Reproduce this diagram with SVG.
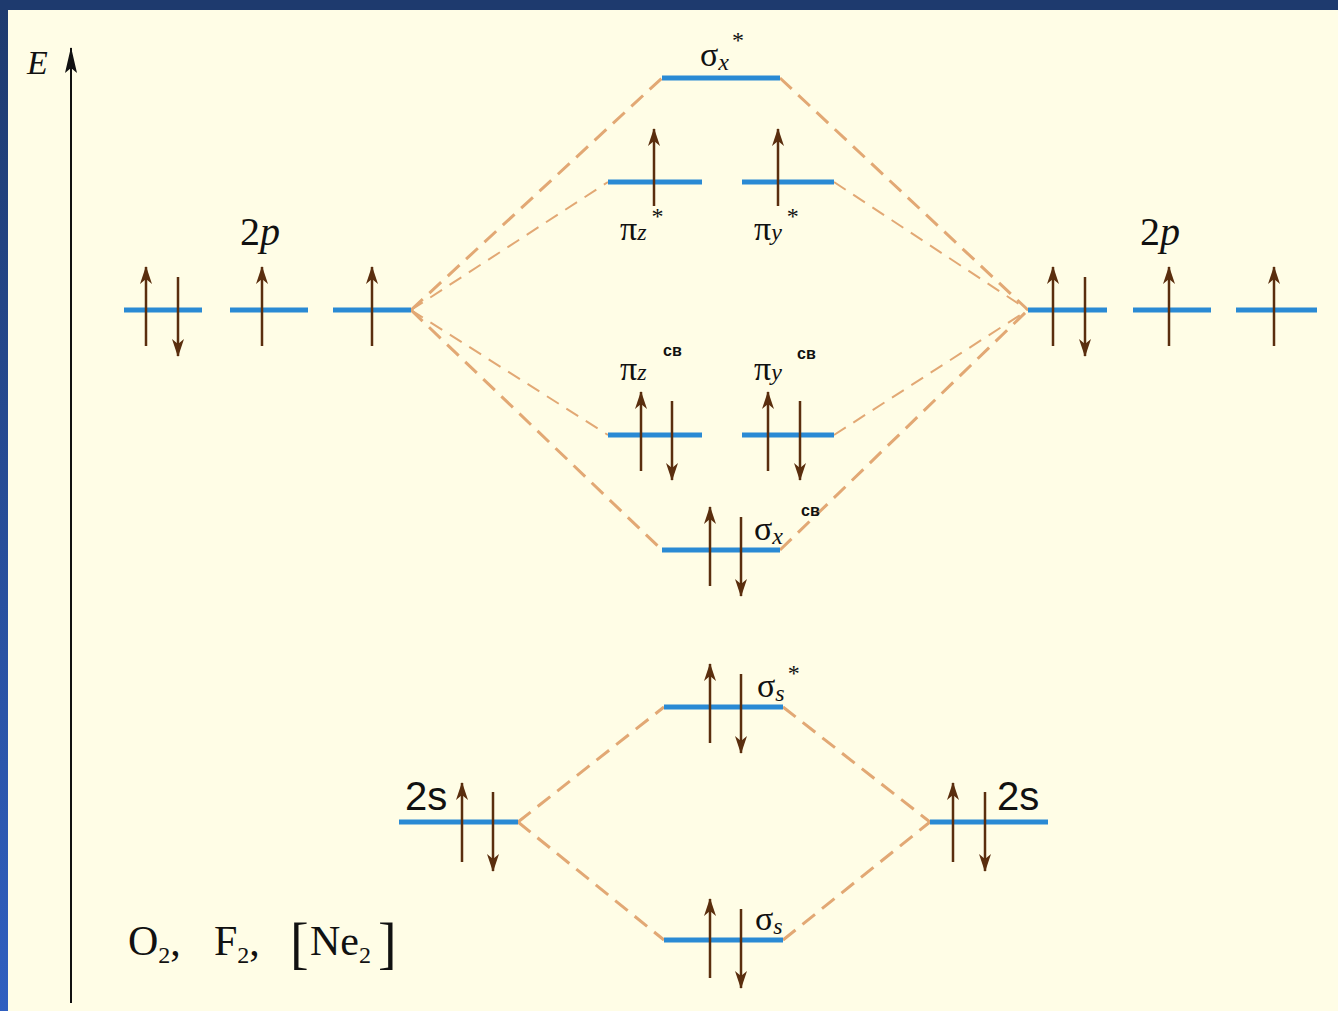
<svg xmlns="http://www.w3.org/2000/svg" width="1338" height="1011" viewBox="0 0 1338 1011">
<defs>
<linearGradient id="side" x1="0" y1="0" x2="0" y2="1">
<stop offset="0" stop-color="#1e3a6e"/>
<stop offset="1" stop-color="#2f5fc0"/>
</linearGradient>
<marker id="ah" viewBox="0 0 18 12" refX="17" refY="6" markerWidth="18" markerHeight="12" markerUnits="userSpaceOnUse" orient="auto-start-reverse">
<path d="M18,6 L0,0 L5,6 L0,12 Z" fill="#5a2e0e"/>
</marker>
<marker id="ax" viewBox="0 0 26 12" refX="25" refY="6" markerWidth="26" markerHeight="12" markerUnits="userSpaceOnUse" orient="auto-start-reverse">
<path d="M26,6 L0,0 L5,6 L0,12 Z" fill="#111"/>
</marker>
</defs>
<style>
.lv{stroke:#2a8ad4;stroke-width:5;fill:none}
.ar{stroke:#5a2e0e;stroke-width:2.5;fill:none}
.up{marker-start:url(#ah)}
.dn{marker-end:url(#ah)}
.dash{stroke:#e2a874;stroke-width:3;stroke-dasharray:16 9;fill:none}
.thin{stroke:#e2a874;stroke-width:2;stroke-dasharray:14 9;fill:none}
.t{font-family:"Liberation Serif",serif;fill:#111}
.s{font-family:"Liberation Sans",sans-serif;fill:#111}
</style>
<rect x="0" y="0" width="1338" height="1011" fill="url(#side)"/>
<rect x="0" y="0" width="1338" height="10" fill="#1e3a6e"/>
<rect x="8" y="10" width="1330" height="1001" fill="#fffde6"/>

<g id="axis">
<line x1="71" y1="1003" x2="71" y2="48" stroke="#111" stroke-width="2" marker-end="url(#ax)"/>
<text class="t" x="27" y="74" font-size="34" font-style="italic">E</text>
</g>

<g id="connectors">
<line class="dash" x1="411" y1="310" x2="662" y2="78"/>
<line class="thin" x1="411" y1="310" x2="608" y2="182"/>
<line class="thin" x1="411" y1="310" x2="608" y2="435"/>
<line class="dash" x1="411" y1="310" x2="662" y2="550"/>
<line class="dash" x1="780" y1="78" x2="1028" y2="310"/>
<line class="thin" x1="834" y1="182" x2="1028" y2="310"/>
<line class="thin" x1="834" y1="435" x2="1028" y2="310"/>
<line class="dash" x1="780" y1="550" x2="1028" y2="310"/>
<line class="dash" x1="518" y1="822" x2="664" y2="707"/>
<line class="dash" x1="518" y1="822" x2="664" y2="940"/>
<line class="dash" x1="783" y1="707" x2="930" y2="822"/>
<line class="dash" x1="783" y1="940" x2="930" y2="822"/>
</g>

<g id="left-2p">
<line class="lv" x1="124" y1="310" x2="202" y2="310"/>
<line class="lv" x1="230" y1="310" x2="308" y2="310"/>
<line class="lv" x1="333" y1="310" x2="411" y2="310"/>
<line class="ar up" x1="146" y1="267" x2="146" y2="346"/>
<line class="ar dn" x1="178" y1="277" x2="178" y2="356"/>
<line class="ar up" x1="262" y1="267" x2="262" y2="346"/>
<line class="ar up" x1="372" y1="267" x2="372" y2="346"/>
<text class="t" x="240" y="245" font-size="40">2<tspan font-style="italic">p</tspan></text>
</g>

<g id="right-2p">
<line class="lv" x1="1028" y1="310" x2="1107" y2="310"/>
<line class="lv" x1="1133" y1="310" x2="1211" y2="310"/>
<line class="lv" x1="1236" y1="310" x2="1317" y2="310"/>
<line class="ar up" x1="1053" y1="267" x2="1053" y2="346"/>
<line class="ar dn" x1="1085" y1="277" x2="1085" y2="356"/>
<line class="ar up" x1="1169" y1="267" x2="1169" y2="346"/>
<line class="ar up" x1="1274" y1="267" x2="1274" y2="346"/>
<text class="t" x="1140" y="245" font-size="40">2<tspan font-style="italic">p</tspan></text>
</g>

<g id="sigma-x-star">
<line class="lv" x1="662" y1="78" x2="780" y2="78"/>
<text class="t" x="700" y="66" font-size="34">σ<tspan font-size="24" font-style="italic" dy="4">x</tspan><tspan font-size="24" dx="3" dy="-22">*</tspan></text>
</g>

<g id="pi-z-star">
<line class="lv" x1="608" y1="182" x2="702" y2="182"/>
<line class="ar up" x1="654" y1="129" x2="654" y2="206"/>
<text class="t" x="620" y="240" font-size="34">π<tspan font-size="24" font-style="italic">z</tspan><tspan font-size="24" dx="5" dy="-16">*</tspan></text>
</g>

<g id="pi-y-star">
<line class="lv" x1="742" y1="182" x2="834" y2="182"/>
<line class="ar up" x1="778" y1="129" x2="778" y2="206"/>
<text class="t" x="754" y="240" font-size="34">π<tspan font-size="24" font-style="italic">y</tspan><tspan font-size="24" dx="5" dy="-16">*</tspan></text>
</g>

<g id="pi-z-bonding">
<line class="lv" x1="608" y1="435" x2="702" y2="435"/>
<line class="ar up" x1="641" y1="392" x2="641" y2="471"/>
<line class="ar dn" x1="672" y1="401" x2="672" y2="480"/>
<text class="t" x="620" y="380" font-size="34">π<tspan font-size="24" font-style="italic">z</tspan></text>
<text class="s" x="663" y="356" font-size="16" font-weight="bold">св</text>
</g>

<g id="pi-y-bonding">
<line class="lv" x1="742" y1="435" x2="834" y2="435"/>
<line class="ar up" x1="768" y1="392" x2="768" y2="471"/>
<line class="ar dn" x1="800" y1="401" x2="800" y2="480"/>
<text class="t" x="754" y="380" font-size="34">π<tspan font-size="24" font-style="italic">y</tspan></text>
<text class="s" x="797" y="359" font-size="16" font-weight="bold">св</text>
</g>

<g id="sigma-x-bonding">
<line class="lv" x1="662" y1="550" x2="780" y2="550"/>
<line class="ar up" x1="710" y1="507" x2="710" y2="586"/>
<line class="ar dn" x1="741" y1="517" x2="741" y2="596"/>
<text class="t" x="754" y="540" font-size="34">σ<tspan font-size="24" font-style="italic" dy="4">x</tspan></text>
<text class="s" x="801" y="516" font-size="16" font-weight="bold">св</text>
</g>

<g id="sigma-s-star">
<line class="lv" x1="664" y1="707" x2="783" y2="707"/>
<line class="ar up" x1="710" y1="664" x2="710" y2="743"/>
<line class="ar dn" x1="741" y1="674" x2="741" y2="753"/>
<text class="t" x="757" y="697" font-size="34">σ<tspan font-size="24" font-style="italic" dy="4">s</tspan><tspan font-size="24" dx="3" dy="-20">*</tspan></text>
</g>

<g id="left-2s">
<line class="lv" x1="399" y1="822" x2="518" y2="822"/>
<line class="ar up" x1="462" y1="783" x2="462" y2="862"/>
<line class="ar dn" x1="493" y1="792" x2="493" y2="871"/>
<text class="s" x="405" y="810" font-size="40">2s</text>
</g>

<g id="right-2s">
<line class="lv" x1="930" y1="822" x2="1048" y2="822"/>
<line class="ar up" x1="953" y1="783" x2="953" y2="862"/>
<line class="ar dn" x1="985" y1="792" x2="985" y2="871"/>
<text class="s" x="997" y="810" font-size="40">2s</text>
</g>

<g id="sigma-s">
<line class="lv" x1="664" y1="940" x2="783" y2="940"/>
<line class="ar up" x1="710" y1="899" x2="710" y2="978"/>
<line class="ar dn" x1="741" y1="909" x2="741" y2="988"/>
<text class="t" x="755" y="930" font-size="34">σ<tspan font-size="24" font-style="italic" dy="4">s</tspan></text>
</g>

<g id="formula">
<text class="t" x="128" y="955" font-size="42">O<tspan font-size="24" dy="8">2</tspan><tspan dy="-8">,</tspan></text>
<text class="t" x="214" y="955" font-size="42">F<tspan font-size="24" dy="8">2</tspan><tspan dy="-8">,</tspan></text>
<text class="t" x="290" y="962" font-size="56">[</text>
<text class="t" x="310" y="955" font-size="42">Ne<tspan font-size="24" dy="8">2</tspan></text>
<text class="t" x="378" y="962" font-size="56">]</text>
</g>
</svg>
